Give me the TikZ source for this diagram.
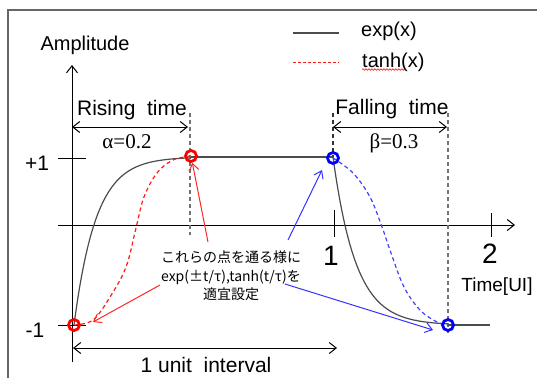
\documentclass[tikz,border=0pt]{standalone}
\usepackage{fontspec}
\setmainfont{Liberation Sans}
\newfontfamily\greekfont{Liberation Serif}
\newfontfamily\jpfont{Noto Sans CJK JP}
\usetikzlibrary{arrows.meta,decorations.pathmorphing}
\tikzset{
  barb/.style={Straight Barb[length=7pt, width=11pt]},
  axisline/.style={line width=1pt, -{Straight Barb[length=7pt, width=11pt]}},
  spanarrow/.style={line width=1pt, {Straight Barb[length=7pt, width=11pt]}-{Straight Barb[length=7pt, width=11pt]}},
  tickline/.style={line width=1pt},
  guide/.style={black!55, line width=1.3pt, dash pattern=on 4pt off 3pt},
  expcurve/.style={black!70, line width=1.2pt},
  redtanh/.style={red!90, line width=1.2pt, dash pattern=on 4pt off 3pt},
  bluetanh/.style={blue!75, line width=1.2pt, dash pattern=on 4pt off 3pt},
  redpoint/.style={circle, draw=red, line width=2.8pt, minimum size=11pt, inner sep=0pt},
  bluepoint/.style={circle, draw=blue, line width=2.8pt, minimum size=11pt, inner sep=0pt},
  redpointer/.style={red!85, line width=1pt, -{Straight Barb[length=7pt, width=10pt]}},
  bluepointer/.style={blue!80, line width=1pt, -{Straight Barb[length=7pt, width=10pt]}},
  lbl/.style={font=\fontsize{20}{24}\selectfont, inner sep=0pt},
  biglbl/.style={font=\fontsize{28}{32}\selectfont, inner sep=0pt},
  greeklbl/.style={font=\greekfont\fontsize{21}{24}\selectfont, inner sep=0pt},
  notelbl/.style={font=\jpfont\fontsize{14}{18.5}\selectfont, align=center, inner sep=0pt}
}

\begin{document}
\begin{tikzpicture}[x=1pt, y=-1pt]
  \useasboundingbox (0,0) rectangle (537,378);
  \draw[black!60, line width=1.5pt] (8,378) -- (8,10) -- (537,10);

  % axes
  \coordinate (ybot) at (72,362);
  \coordinate (ytop) at (72,65);
  \coordinate (xleft) at (58,225);
  \coordinate (xright) at (515,225);
  \draw[axisline] (ybot) -- (ytop);
  \draw[axisline] (xleft) -- (xright);
  \draw[tickline] (58,158) -- (86,158);
  \draw[tickline] (58,325) -- (86,325);
  \draw[tickline] (334,210) -- (334,237);
  \draw[tickline] (491,213) -- (491,237);

  \node[lbl, anchor=base] (amp) at (85,50) {Amplitude};
  \node[lbl, anchor=base, font=\fontsize{21}{24}\selectfont] (plusone) at (37,170) {+1};
  \node[lbl, anchor=base, font=\fontsize{21}{24}\selectfont] (minusone) at (35,337) {-1};
  \node[biglbl, anchor=base] (tone) at (331,265) {1};
  \node[biglbl, anchor=base] (ttwo) at (490,263) {2};
  \node[lbl, anchor=base, font=\fontsize{19}{22}\selectfont] (timeui) at (497,291) {Time[UI]};

  % guides
  \draw[guide] (190,113) -- (190,235);
  \draw[guide, black!80] (333,113) -- (333,157);
  \draw[guide] (448,113) -- (448,333);

  % rising / falling spans
  \coordinate (risea) at (72,127);
  \coordinate (riseb) at (188,127);
  \coordinate (falla) at (333,127);
  \coordinate (fallb) at (447,127);
  \draw[spanarrow] (risea) -- (riseb);
  \draw[spanarrow] (falla) -- (fallb);
  \node[lbl, anchor=base, font=\fontsize{21}{24}\selectfont] (risetext) at (132,115) {Rising\ \ time};
  \node[greeklbl, anchor=base] (alphatext) at (127,148) {α=0.2};
  \node[lbl, anchor=base, font=\fontsize{21}{24}\selectfont] (falltext) at (392,114) {Falling\ \ time};
  \node[greeklbl, anchor=base] (betatext) at (394,148) {β=0.3};

  % unit interval
  \coordinate (unita) at (73,348);
  \coordinate (unitb) at (337,348);
  \draw[spanarrow] (unita) -- (unitb);
  \node[lbl, anchor=base, font=\fontsize{21}{24}\selectfont] (unittext) at (206,372) {1\ unit\ \ interval};

  % waveforms
  \draw[expcurve] (191,157) -- (333,157);
  \draw[expcurve] (448,325) -- (490,325);
  \draw[expcurve] plot[domain=0:117, samples=80] ({74+\x}, {157+168*exp(-\x/22)});
  \draw[expcurve] plot[domain=0:115, samples=80] ({333+\x}, {325-168*exp(-\x/23)});
  \draw[redtanh] plot[smooth, tension=0.6] coordinates {(74,325) (93,320) (110,297) (126,267) (136,228) (144,197) (157,173) (173,160) (191,156)};
  \draw[bluetanh] plot[smooth, tension=0.6] coordinates {(333,158) (353,173) (370,197) (382,227) (391,253) (404,287) (420,310) (437,322) (448,325)};

  \node[redpoint] (risestart) at (74,325) {};
  \node[redpoint] (riseend) at (191,156) {};
  \node[bluepoint] (fallstart) at (333,158) {};
  \node[bluepoint] (fallend) at (448,325) {};

  % note and pointers
  \node[notelbl] (note) at (231,276) {これらの点を通る様に\\exp(±t/τ),tanh(t/τ)を\\適宜設定};
  \coordinate (ra) at (208,242);
  \coordinate (rb) at (160,285);
  \coordinate (rbend) at (93,322);
  \coordinate (ba) at (288,240);
  \coordinate (baend) at (322,170);
  \coordinate (bb) at (285,284);
  \coordinate (bbend) at (433,330);
  \draw[redpointer] (ra) -- (riseend);
  \draw[redpointer] (rb) -- (rbend);
  \draw[bluepointer] (ba) -- (baend);
  \draw[bluepointer] (bb) -- (bbend);

  % legend
  \node[lbl, anchor=base west] (legexp) at (361,36) {exp(x)};
  \node[lbl, anchor=base west] (legtanh) at (362,67) {tanh(x)};
  \draw[expcurve] (293,33) -- (339,33);
  \draw[redtanh, line width=1pt, dash pattern=on 3pt off 2pt] (293,62) -- (339,62);
  \draw[red, line width=0.6pt, decorate, decoration={snake, amplitude=0.8pt, segment length=3pt}] ([yshift=-2.5pt]legtanh.base west) -- ++(43,0);
\end{tikzpicture}
\end{document}
